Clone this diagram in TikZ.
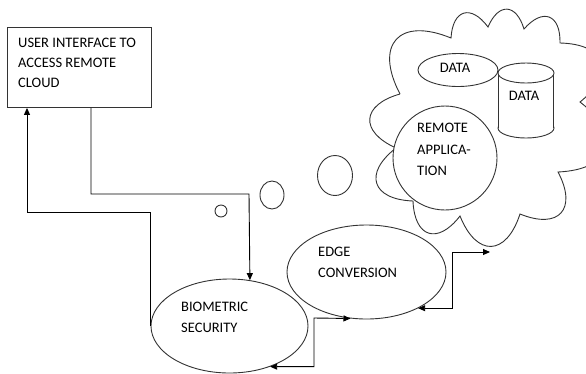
\documentclass[tikz,border=0pt]{standalone}
\usepackage{fontspec}
\setmainfont{Carlito}
\usetikzlibrary{arrows.meta,shapes.geometric,calc}
\begin{document}
\begin{tikzpicture}[x=1pt,y=-1pt,
  line/.style={draw=black!80,line width=0.9pt},
  arr/.style={draw=black,line width=0.9pt,-{Triangle[length=7pt,width=6pt]}},
  dblarr/.style={draw=black,line width=0.9pt,{Triangle[length=7pt,width=6pt]}-{Triangle[length=7pt,width=6pt]}},
  oval/.style={ellipse,line,inner sep=0pt},
  bump/.style={bend left=70,looseness=1.9},
  lbl/.style={anchor=base west,inner sep=0pt,font=\fontsize{14.5}{20}\selectfont,text=black},
  ctr/.style={anchor=base,inner sep=0pt,font=\fontsize{14.5}{20}\selectfont,text=black}
]
\useasboundingbox (0,0) rectangle (586,373);

% user interface box
\node[line,minimum width=144,minimum height=80,anchor=north west,inner sep=0pt] (ui) at (7,27) {};
\node[lbl] (ui1) at (18,47.5) {USER INTERFACE TO};
\node[lbl] (ui2) at (18,67.5) {ACCESS REMOTE};
\node[lbl] (ui3) at (18,87.5) {CLOUD};

% thought bubbles
\node[oval,minimum width=12,minimum height=12] (b1) at (221,211) {};
\node[oval,minimum width=24,minimum height=28] (b2) at (272,195) {};
\node[oval,minimum width=35,minimum height=40] (b3) at (335,175.5) {};

% cloud
\draw[line] (400,94) to[bump] (451,38) to[bump] (488,27) to[bump] (524,29)
  to[bump] (560,43) to[bump] (580,102) to[bump] (558,172) to[bump] (520,214)
  to[bump] (460,216) to[bump] (413,201) to[bump] (396,148) to[bump] (400,94);
\coordinate (cloudin) at (490,252);

% data ellipse
\node[oval,fill=white,minimum width=80,minimum height=33] (data1) at (458,70) {};
\node[ctr] (d1) at (455,72.5) {DATA};

% cylinder
\node[oval,fill=white,minimum width=56,minimum height=20] (cylbot) at (526,128) {};
\node[fill=white,minimum width=55,minimum height=55,inner sep=0pt] (cylbody) at (526,100.5) {};
\draw[line] (cylbody.north west) -- (cylbody.south west);
\draw[line] (cylbody.north east) -- (cylbody.south east);
\node[oval,fill=white,minimum width=56,minimum height=20] (cyltop) at (526,73) {};
\node[ctr] (d2) at (524,100) {DATA};

% remote application
\node[circle,line,fill=white,minimum size=104,inner sep=0pt] (app) at (445,158) {};
\node[lbl] (a1) at (417,132.6) {REMOTE};
\node[lbl] (a2) at (417,154) {APPLICA-};
\node[lbl] (a3) at (417,175) {TION};

% biometric and edge
\node[oval,minimum width=157,minimum height=94] (bio) at (229.5,326) {};
\node[lbl] (bt1) at (181,311.6) {BIOMETRIC};
\node[lbl] (bt2) at (181,332.6) {SECURITY};
\node[oval,minimum width=159,minimum height=94] (edge) at (366.5,272) {};
\node[lbl] (et1) at (318,256.6) {EDGE};
\node[lbl] (et2) at (318,277.6) {CONVERSION};

% connectors
\draw[arr] (ui.south -| 91,0) |- (249,194) -- (bio.66.6);
\draw[arr] (bio.west) |- (27,212) -- (ui.south -| 27,0);
\draw[dblarr] (bio.-45) -| (314,318) -- (edge.-109.5);
\draw[dblarr] (edge.-35.5) -| (452,252) -- (cloudin);
\end{tikzpicture}
\end{document}
